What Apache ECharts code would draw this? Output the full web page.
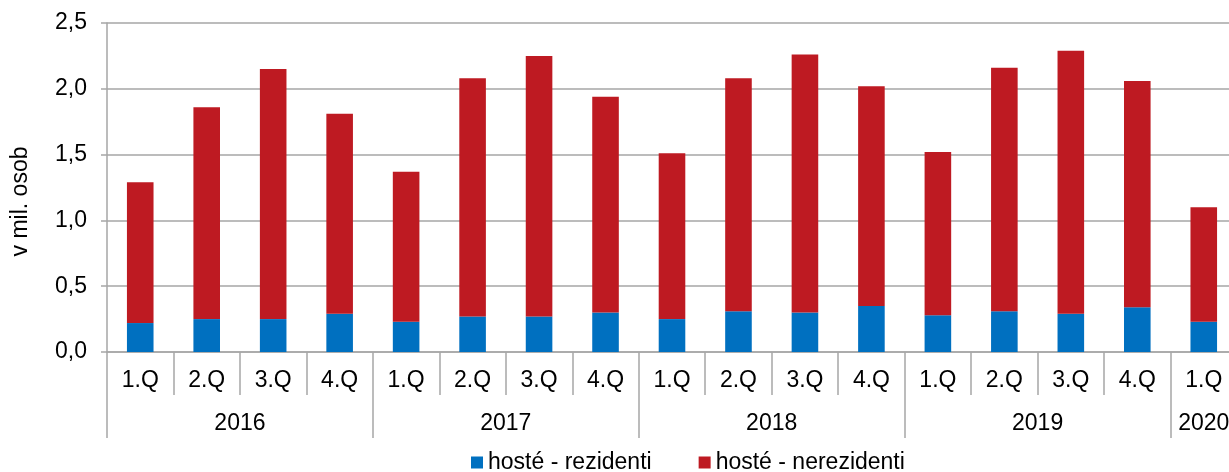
<!DOCTYPE html>
<html>
<head>
<meta charset="utf-8">
<script src="https://cdn.jsdelivr.net/npm/echarts@6/dist/echarts.min.js"></script>
<style>
  html, body { margin: 0; padding: 0; background: #fff; }
  #chart { width: 1229px; height: 472px; }
</style>
</head>
<body>
<div id="chart"></div>
<script>
// quarters 2016 Q1 .. 2020 Q1
const quarters = ['1.Q', '2.Q', '3.Q', '4.Q', '1.Q', '2.Q', '3.Q', '4.Q', '1.Q', '2.Q', '3.Q', '4.Q', '1.Q', '2.Q', '3.Q', '4.Q', '1.Q']
const years = ['2016', '2017', '2018', '2019', '2020']
const yearCenters = [2, 6, 10, 14, 16.5]
const yearBounds = [0, 4, 8, 12, 16, 17]

// v mil. osob
const residents = [0.22, 0.25, 0.25, 0.29, 0.23, 0.27, 0.27, 0.30, 0.25, 0.31, 0.30, 0.35, 0.28, 0.31, 0.29, 0.34, 0.23]
const totals = [1.29, 1.86, 2.15, 1.81, 1.37, 2.08, 2.25, 1.94, 1.51, 2.08, 2.26, 2.02, 1.52, 2.16, 2.29, 2.06, 1.10]
const nonResidents = totals.map((t, i) => +(t - residents[i]).toFixed(2))

const gray = '#a6a6a6'
const font = 'Liberation Sans, Arial, sans-serif'
const fs = 23

const chart = echarts.init(document.getElementById('chart'))
chart.setOption({
	animation: false,
	textStyle: { fontFamily: font },
	// plot runs a bit past the right edge, like the original
	grid: { left: 107, top: 23, width: 1130, height: 329, outerBoundsMode: 'none' },
	legend: {
		top: 451,
		left: 471,
		padding: 0,
		itemWidth: 12,
		itemHeight: 12,
		itemGap: 47,
		icon: 'rect',
		textStyle: { fontSize: fs, color: '#000', fontFamily: font },
		data: ['hosté - rezidenti', 'hosté - nerezidenti']
	},
	xAxis: [
		{
			type: 'category',
			data: quarters,
			axisLine: { lineStyle: { color: gray, width: 1.5 } },
			axisTick: { show: true, interval: 0, length: 43, lineStyle: { color: gray, width: 1.5 } },
			axisLabel: { interval: 0, margin: 17, fontSize: fs, color: '#000', fontFamily: font }
		},
		{
			type: 'value',
			position: 'bottom',
			min: 0,
			max: 17,
			splitLine: { show: false },
			axisLine: { show: false },
			axisTick: { show: true, customValues: yearBounds, length: 86, lineStyle: { color: gray, width: 1.5 } },
			axisLabel: {
				customValues: yearCenters,
				margin: 60,
				fontSize: fs,
				color: '#000',
				fontFamily: font,
				formatter: v => years[yearCenters.indexOf(v)]
			}
		}
	],
	yAxis: {
		type: 'value',
		min: 0,
		max: 2.5,
		interval: 0.5,
		name: 'v mil. osob',
		nameLocation: 'middle',
		nameGap: 75,
		nameTextStyle: { fontSize: fs, color: '#000', fontFamily: font, padding: [0, 28, 0, 0] },
		axisLine: { show: true, lineStyle: { color: gray, width: 1.5 } },
		axisTick: { show: true, length: 6, lineStyle: { color: gray, width: 1.5 } },
		splitLine: { lineStyle: { color: gray, width: 1.5 } },
		axisLabel: {
			fontSize: fs,
			color: '#000',
			margin: 20,
			fontFamily: font,
			formatter: v => v.toFixed(1).replace('.', ',')
		}
	},
	series: [
		{
			name: 'hosté - rezidenti',
			type: 'bar',
			stack: 'hoste',
			barWidth: '40%',
			itemStyle: { color: '#0070c0' },
			data: residents
		},
		{
			name: 'hosté - nerezidenti',
			type: 'bar',
			stack: 'hoste',
			barWidth: '40%',
			itemStyle: { color: '#be1a22' },
			data: nonResidents
		}
	]
})
</script>
</body>
</html>
